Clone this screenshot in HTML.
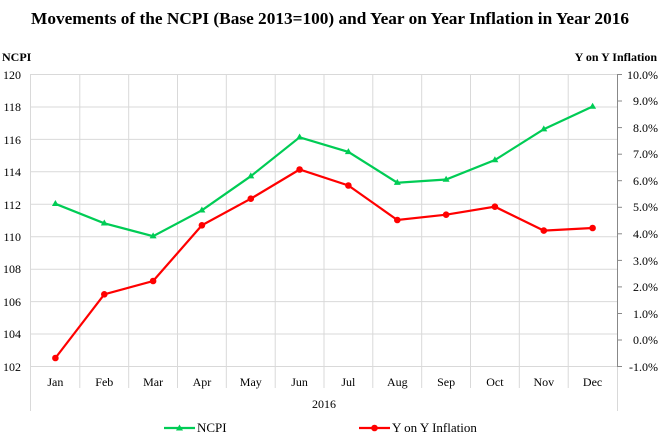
<!DOCTYPE html>
<html><head><style>body{margin:0;background:#fff}svg{display:block}</style></head><body>
<svg width="660" height="440" xmlns="http://www.w3.org/2000/svg" font-family="Liberation Serif, serif">
<text x="330" y="24" text-anchor="middle" font-size="17" font-weight="bold" textLength="598" lengthAdjust="spacingAndGlyphs">Movements of the NCPI (Base 2013=100) and Year on Year Inflation in Year 2016</text>
<text x="2" y="61" font-size="12" font-weight="bold">NCPI</text>
<text x="657" y="61" font-size="12" font-weight="bold" text-anchor="end">Y on Y Inflation</text>
<g stroke="#d9d9d9" stroke-width="1">
<line x1="31" y1="74.5" x2="617" y2="74.5"/><line x1="31" y1="107" x2="617" y2="107"/><line x1="31" y1="139.4" x2="617" y2="139.4"/><line x1="31" y1="171.8" x2="617" y2="171.8"/><line x1="31" y1="204.3" x2="617" y2="204.3"/><line x1="31" y1="236.7" x2="617" y2="236.7"/><line x1="31" y1="269.2" x2="617" y2="269.2"/><line x1="31" y1="301.6" x2="617" y2="301.6"/><line x1="31" y1="334" x2="617" y2="334"/><line x1="31" y1="366.5" x2="617" y2="366.5"/>
<line x1="30.5" y1="74" x2="30.5" y2="411"/>
<line x1="79.8" y1="74" x2="79.8" y2="388"/><line x1="128.7" y1="74" x2="128.7" y2="388"/><line x1="177.5" y1="74" x2="177.5" y2="388"/><line x1="226.3" y1="74" x2="226.3" y2="388"/><line x1="275.2" y1="74" x2="275.2" y2="388"/><line x1="324" y1="74" x2="324" y2="388"/><line x1="372.8" y1="74" x2="372.8" y2="388"/><line x1="421.7" y1="74" x2="421.7" y2="388"/><line x1="470.5" y1="74" x2="470.5" y2="388"/><line x1="519.3" y1="74" x2="519.3" y2="388"/><line x1="568.2" y1="74" x2="568.2" y2="388"/>
<line x1="617.5" y1="366" x2="617.5" y2="411"/>
</g>
<g stroke="#888" stroke-width="1">
<line x1="617.5" y1="74" x2="617.5" y2="366"/>
<line x1="617" y1="74.5" x2="622" y2="74.5"/><line x1="617" y1="101" x2="622" y2="101"/><line x1="617" y1="127.6" x2="622" y2="127.6"/><line x1="617" y1="154.2" x2="622" y2="154.2"/><line x1="617" y1="180.7" x2="622" y2="180.7"/><line x1="617" y1="207.3" x2="622" y2="207.3"/><line x1="617" y1="233.8" x2="622" y2="233.8"/><line x1="617" y1="260.4" x2="622" y2="260.4"/><line x1="617" y1="286.9" x2="622" y2="286.9"/><line x1="617" y1="313.5" x2="622" y2="313.5"/><line x1="617" y1="340" x2="622" y2="340"/><line x1="617" y1="366.5" x2="622" y2="366.5"/>
</g>
<g font-size="12" text-anchor="end">
<text x="21" y="79">120</text><text x="21" y="111">118</text><text x="21" y="144">116</text><text x="21" y="176">114</text><text x="21" y="209">112</text><text x="21" y="241">110</text><text x="21" y="273">108</text><text x="21" y="306">106</text><text x="21" y="338">104</text><text x="21" y="371">102</text>
</g>
<g font-size="12" text-anchor="end">
<text x="658" y="79">10.0%</text><text x="658" y="105">9.0%</text><text x="658" y="132">8.0%</text><text x="658" y="158">7.0%</text><text x="658" y="185">6.0%</text><text x="658" y="211">5.0%</text><text x="658" y="238">4.0%</text><text x="658" y="265">3.0%</text><text x="658" y="291">2.0%</text><text x="658" y="318">1.0%</text><text x="658" y="344">0.0%</text><text x="658" y="371">-1.0%</text>
</g>
<g font-size="12" text-anchor="middle">
<text x="55.4" y="386">Jan</text><text x="104.3" y="386">Feb</text><text x="153.1" y="386">Mar</text><text x="201.9" y="386">Apr</text><text x="250.8" y="386">May</text><text x="299.6" y="386">Jun</text><text x="348.4" y="386">Jul</text><text x="397.3" y="386">Aug</text><text x="446.1" y="386">Sep</text><text x="494.9" y="386">Oct</text><text x="543.8" y="386">Nov</text><text x="592.6" y="386">Dec</text>
<text x="324" y="408">2016</text>
</g>
<polyline fill="none" stroke="#00cc55" stroke-width="2.2" points="55.4,203.8 104.3,223.3 153.1,236.2 201.9,210.3 250.8,176.2 299.6,137.3 348.4,151.9 397.3,182.7 446.1,179.5 494.9,160 543.8,129.2 592.6,106.5"/>
<g fill="#00cc55">
<path d="M55.4,200 l3.5,6 h-7z"/><path d="M104.3,219.5 l3.5,6 h-7z"/><path d="M153.1,232.4 l3.5,6 h-7z"/><path d="M201.9,206.5 l3.5,6 h-7z"/><path d="M250.8,172.4 l3.5,6 h-7z"/><path d="M299.6,133.5 l3.5,6 h-7z"/><path d="M348.4,148.1 l3.5,6 h-7z"/><path d="M397.3,178.9 l3.5,6 h-7z"/><path d="M446.1,175.7 l3.5,6 h-7z"/><path d="M494.9,156.2 l3.5,6 h-7z"/><path d="M543.8,125.4 l3.5,6 h-7z"/><path d="M592.6,102.7 l3.5,6 h-7z"/>
</g>
<polyline fill="none" stroke="#ff0000" stroke-width="2.2" points="55.4,358 104.3,294.3 153.1,281 201.9,225.3 250.8,198.7 299.6,169.5 348.4,185.5 397.3,220 446.1,214.7 494.9,206.7 543.8,230.6 592.6,228"/>
<g fill="#ff0000">
<circle cx="55.4" cy="358" r="3.3"/><circle cx="104.3" cy="294.3" r="3.3"/><circle cx="153.1" cy="281" r="3.3"/><circle cx="201.9" cy="225.3" r="3.3"/><circle cx="250.8" cy="198.7" r="3.3"/><circle cx="299.6" cy="169.5" r="3.3"/><circle cx="348.4" cy="185.5" r="3.3"/><circle cx="397.3" cy="220" r="3.3"/><circle cx="446.1" cy="214.7" r="3.3"/><circle cx="494.9" cy="206.7" r="3.3"/><circle cx="543.8" cy="230.6" r="3.3"/><circle cx="592.6" cy="228" r="3.3"/>
</g>
<line x1="164" y1="428" x2="195" y2="428" stroke="#00cc55" stroke-width="2.2"/>
<path d="M179.5,424.5 l3.5,6 h-7z" fill="#00cc55"/>
<text x="197" y="432" font-size="13">NCPI</text>
<line x1="359" y1="428" x2="390" y2="428" stroke="#ff0000" stroke-width="2.2"/>
<circle cx="374.5" cy="428" r="3.3" fill="#ff0000"/>
<text x="392" y="432" font-size="13">Y on Y Inflation</text>
</svg>
</body></html>
